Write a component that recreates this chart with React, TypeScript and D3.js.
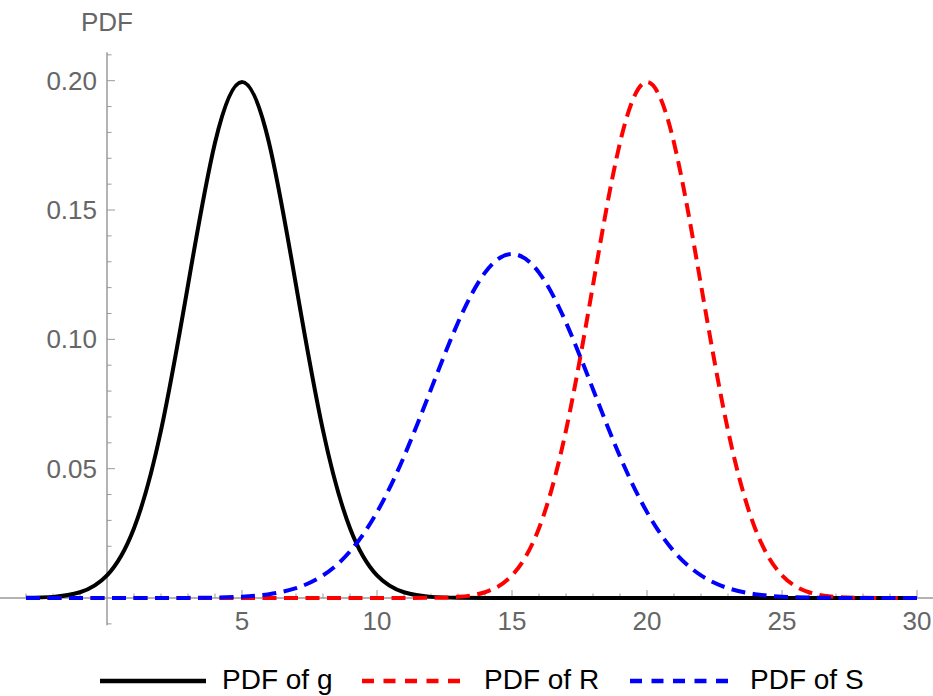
import React from 'react';
import * as d3 from 'd3';

// sample positions along x, and PDF values
const xs = [-3, -2, -1, 0, 1, 2, 3, 4, 5, 6, 7, 8, 9, 10, 11, 12, 13, 14, 15, 16, 17, 18, 19, 20, 21, 22, 23, 24, 25, 26, 27, 28, 29, 30];
const pdfG = [0.0000669, 0.000437, 0.00222, 0.00876, 0.027, 0.0648, 0.121, 0.176, 0.1995, 0.176, 0.121, 0.0648, 0.027, 0.00876, 0.00222, 0.000437, 0.0000669, 0.000008, 0, 0, 0, 0, 0, 0, 0, 0, 0, 0, 0, 0, 0, 0, 0, 0];
const pdfR = [0, 0, 0, 0, 0, 0, 0, 0, 0, 0, 0, 0, 0, 0, 0.000008, 0.0000669, 0.000437, 0.00222, 0.00876, 0.027, 0.0648, 0.121, 0.176, 0.1995, 0.176, 0.121, 0.0648, 0.027, 0.00876, 0.00222, 0.000437, 0.0000669, 0.000008, 0];
const pdfS = [0, 0, 0, 0, 0.0000025, 0.0000111, 0.0000446, 0.00016, 0.000514, 0.00148, 0.0038, 0.00874, 0.018, 0.0332, 0.0547, 0.0807, 0.1065, 0.1258, 0.133, 0.1258, 0.1065, 0.0807, 0.0547, 0.0332, 0.018, 0.00874, 0.0038, 0.00148, 0.000514, 0.00016, 0.0000446, 0.0000111, 0.0000025, 0];

const seriesNames = ['PDF of g', 'PDF of R', 'PDF of S'];
const seriesColors = ['#000000', '#ff0000', '#0000ff'];
const xMajor = [5, 10, 15, 20, 25, 30];
const yMajor = [0.05, 0.1, 0.15, 0.2];
const yLabels = ['0.05', '0.10', '0.15', '0.20'];

const W = 933;
const H = 696;

const App = () => {
  const x = d3.scaleLinear().domain([0, 30]).range([107, 917]);
  const y = d3.scaleLinear().domain([0, 0.2]).range([598, 80.7]);

  const line = d3.line<number>()
    .x((_, i) => x(xs[i]))
    .y(d => y(d))
    .curve(d3.curveNatural);

  const xMinor = d3.range(-3, 31).filter(v => v !== 0 && v % 5 !== 0);
  const yMinor = d3.range(-1, 22).map(v => v / 100).filter(v => Math.round(v * 100) % 5 !== 0);

  const all = [pdfG, pdfR, pdfS];
  const dashes = [null, '14,7.5', '14,7.5'];
  const axisColor = '#9a9a9a';
  const labelColor = '#666666';
  const font = 'Liberation Sans, Arial, sans-serif';

  const legendLines = [[100, 206], [362, 462], [630, 730]];
  const legendText = [222, 484, 750];

  return (
    <svg width={W} height={H} style={{ position: 'absolute', left: 0, top: 0, background: '#fff' }} fontFamily={font}>
      {/* axes */}
      <line x1={0} x2={W} y1={y(0)} y2={y(0)} stroke={axisColor} strokeWidth={1.5} />
      <line x1={x(0)} x2={x(0)} y1={y(0.211)} y2={y(-0.0105)} stroke={axisColor} strokeWidth={1.5} />
      {xMinor.map(v => (
        <line key={'xm' + v} x1={x(v)} x2={x(v)} y1={y(0)} y2={y(0) - 4.5} stroke={axisColor} strokeWidth={1} />
      ))}
      {xMajor.map(v => (
        <g key={'xM' + v}>
          <line x1={x(v)} x2={x(v)} y1={y(0)} y2={y(0) - 8} stroke={axisColor} strokeWidth={1} />
          <text x={x(v)} y={630} textAnchor="middle" fontSize={26} fill={labelColor}>{v}</text>
        </g>
      ))}
      {yMinor.map(v => (
        <line key={'ym' + v} x1={x(0)} x2={x(0) + 4.5} y1={y(v)} y2={y(v)} stroke={axisColor} strokeWidth={1} />
      ))}
      {yMajor.map((v, i) => (
        <g key={'yM' + v}>
          <line x1={x(0)} x2={x(0) + 8} y1={y(v)} y2={y(v)} stroke={axisColor} strokeWidth={1} />
          <text x={97} y={y(v)} dy="0.35em" textAnchor="end" fontSize={26} fill={labelColor}>{yLabels[i]}</text>
        </g>
      ))}
      <text x={x(0)} y={31} textAnchor="middle" fontSize={26} fill={labelColor}>PDF</text>

      {/* curves */}
      {all.map((s, i) => (
        <path key={'c' + i} d={line(s) || ''} fill="none" stroke={seriesColors[i]} strokeWidth={4}
          strokeDasharray={dashes[i] || undefined} />
      ))}

      {/* legend */}
      {seriesNames.map((n, i) => (
        <g key={'lg' + i}>
          <line x1={legendLines[i][0]} x2={legendLines[i][1]} y1={681} y2={681} stroke={seriesColors[i]} strokeWidth={4.5}
            strokeDasharray={i === 0 ? undefined : '12,9.5'} />
          <text x={legendText[i]} y={689} fontSize={28} fill="#000">{n}</text>
        </g>
      ))}
    </svg>
  );
};

export default App;
